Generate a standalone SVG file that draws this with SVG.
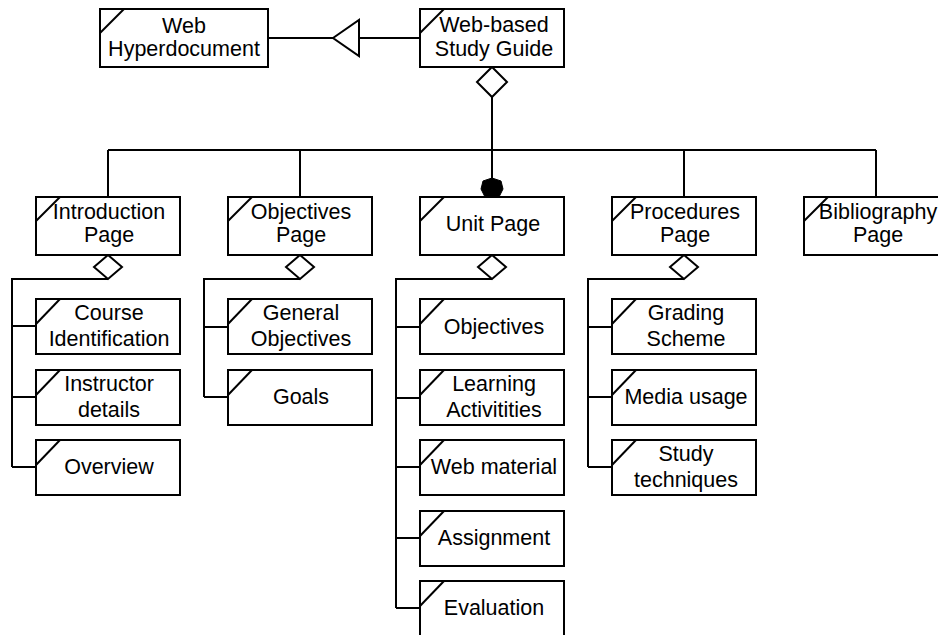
<svg xmlns="http://www.w3.org/2000/svg" width="938" height="635" viewBox="0 0 938 635">
<style>
.box{fill:#fff;stroke:#000;stroke-width:2}
.sl{stroke:#000;stroke-width:2;fill:none}
.ln{stroke:#000;stroke-width:2;fill:none}
.dia{fill:#fff;stroke:#000;stroke-width:2}
text{font-family:"Liberation Sans",Arial,sans-serif;font-size:21.5px;fill:#000;text-anchor:middle}
</style>
<rect width="938" height="635" fill="#fff"/>
<g id="connectors">
<!-- generalization -->
<path class="ln" d="M268,38 H333 M359,38 H420"/>
<polygon class="dia" points="333,38 359,20 359,56"/>
<!-- aggregation from study guide -->
<path class="ln" d="M492,97 V180 M108,150 H876 M108,150 V197 M300,150 V197 M684,150 V197 M876,150 V197"/>
<polygon class="dia" points="492,67 507,82 492,97 477,82"/>
<polygon points="492,178 501,181 503,189 499,197 485,197 481,189 483,181" fill="#000" stroke="#000" stroke-width="1"/>
<!-- intro children -->
<path class="ln" d="M108,279 H12 V467 M12,326 H36 M12,397 H36 M12,467 H36"/>
<polygon class="dia" points="108,255 122,267 108,279 94,267"/>
<!-- objectives children -->
<path class="ln" d="M300,279 H204 V397 M204,327 H228 M204,397 H228"/>
<polygon class="dia" points="300,255 314,267 300,279 286,267"/>
<!-- unit children -->
<path class="ln" d="M492,279 H396 V608 M396,327 H420 M396,398 H420 M396,467 H420 M396,538 H420 M396,608 H420"/>
<polygon class="dia" points="492,255 506,267 492,279 478,267"/>
<!-- procedures children -->
<path class="ln" d="M684,279 H588 V467 M588,327 H612 M588,397 H612 M588,467 H612"/>
<polygon class="dia" points="684,255 698,267 684,279 670,267"/>
</g>

<g id="web-hyperdocument">
<rect class="box" x="100" y="9" width="168" height="58"/>
<path class="sl" d="M100,33 L124,9"/>
<text x="184" y="33">Web</text>
<text x="184" y="56">Hyperdocument</text>
</g>
<g id="study-guide">
<rect class="box" x="420" y="9" width="144" height="58"/>
<path class="sl" d="M420,33 L444,9"/>
<text x="494" y="32">Web-based</text>
<text x="494" y="56">Study Guide</text>
</g>

<g id="introduction-page">
<rect class="box" x="36" y="197" width="144" height="58"/>
<path class="sl" d="M36,221 L60,197"/>
<text x="109" y="219">Introduction</text>
<text x="109" y="242">Page</text>
</g>
<g id="objectives-page">
<rect class="box" x="228" y="197" width="144" height="58"/>
<path class="sl" d="M228,221 L252,197"/>
<text x="301" y="219">Objectives</text>
<text x="301" y="242">Page</text>
</g>
<g id="unit-page">
<rect class="box" x="420" y="197" width="144" height="58"/>
<path class="sl" d="M420,221 L444,197"/>
<text x="493" y="231">Unit Page</text>
</g>
<g id="procedures-page">
<rect class="box" x="612" y="197" width="144" height="58"/>
<path class="sl" d="M612,221 L636,197"/>
<text x="685" y="219">Procedures</text>
<text x="685" y="242">Page</text>
</g>
<g id="bibliography-page">
<rect class="box" x="804" y="197" width="144" height="58"/>
<path class="sl" d="M804,221 L828,197"/>
<text x="878" y="219">Bibliography</text>
<text x="878" y="242">Page</text>
</g>

<g id="course-identification">
<rect class="box" x="36" y="299" width="144" height="55"/>
<path class="sl" d="M36,324 L60,299"/>
<text x="109" y="320">Course</text>
<text x="109" y="346">Identification</text>
</g>
<g id="instructor-details">
<rect class="box" x="36" y="370" width="144" height="55"/>
<path class="sl" d="M36,395 L60,370"/>
<text x="109" y="391">Instructor</text>
<text x="109" y="417">details</text>
</g>
<g id="overview">
<rect class="box" x="36" y="440" width="144" height="55"/>
<path class="sl" d="M36,465 L60,440"/>
<text x="109" y="474">Overview</text>
</g>

<g id="general-objectives">
<rect class="box" x="228" y="299" width="144" height="55"/>
<path class="sl" d="M228,324 L252,299"/>
<text x="301" y="320">General</text>
<text x="301" y="346">Objectives</text>
</g>
<g id="goals">
<rect class="box" x="228" y="370" width="144" height="55"/>
<path class="sl" d="M228,395 L252,370"/>
<text x="301" y="404">Goals</text>
</g>

<g id="objectives">
<rect class="box" x="420" y="299" width="144" height="55"/>
<path class="sl" d="M420,324 L444,299"/>
<text x="494" y="334">Objectives</text>
</g>
<g id="learning-activities">
<rect class="box" x="420" y="370" width="144" height="55"/>
<path class="sl" d="M420,395 L444,370"/>
<text x="494" y="391">Learning</text>
<text x="494" y="417">Activitities</text>
</g>
<g id="web-material">
<rect class="box" x="420" y="440" width="144" height="55"/>
<path class="sl" d="M420,465 L444,440"/>
<text x="494" y="474">Web material</text>
</g>
<g id="assignment">
<rect class="box" x="420" y="511" width="144" height="55"/>
<path class="sl" d="M420,536 L444,511"/>
<text x="494" y="545">Assignment</text>
</g>
<g id="evaluation">
<rect class="box" x="420" y="581" width="144" height="56"/>
<path class="sl" d="M420,606 L444,581"/>
<text x="494" y="615">Evaluation</text>
</g>

<g id="grading-scheme">
<rect class="box" x="612" y="299" width="144" height="55"/>
<path class="sl" d="M612,324 L636,299"/>
<text x="686" y="320">Grading</text>
<text x="686" y="346">Scheme</text>
</g>
<g id="media-usage">
<rect class="box" x="612" y="370" width="144" height="55"/>
<path class="sl" d="M612,395 L636,370"/>
<text x="686" y="404">Media usage</text>
</g>
<g id="study-techniques">
<rect class="box" x="612" y="440" width="144" height="55"/>
<path class="sl" d="M612,465 L636,440"/>
<text x="686" y="461">Study</text>
<text x="686" y="487">techniques</text>
</g>
</svg>
